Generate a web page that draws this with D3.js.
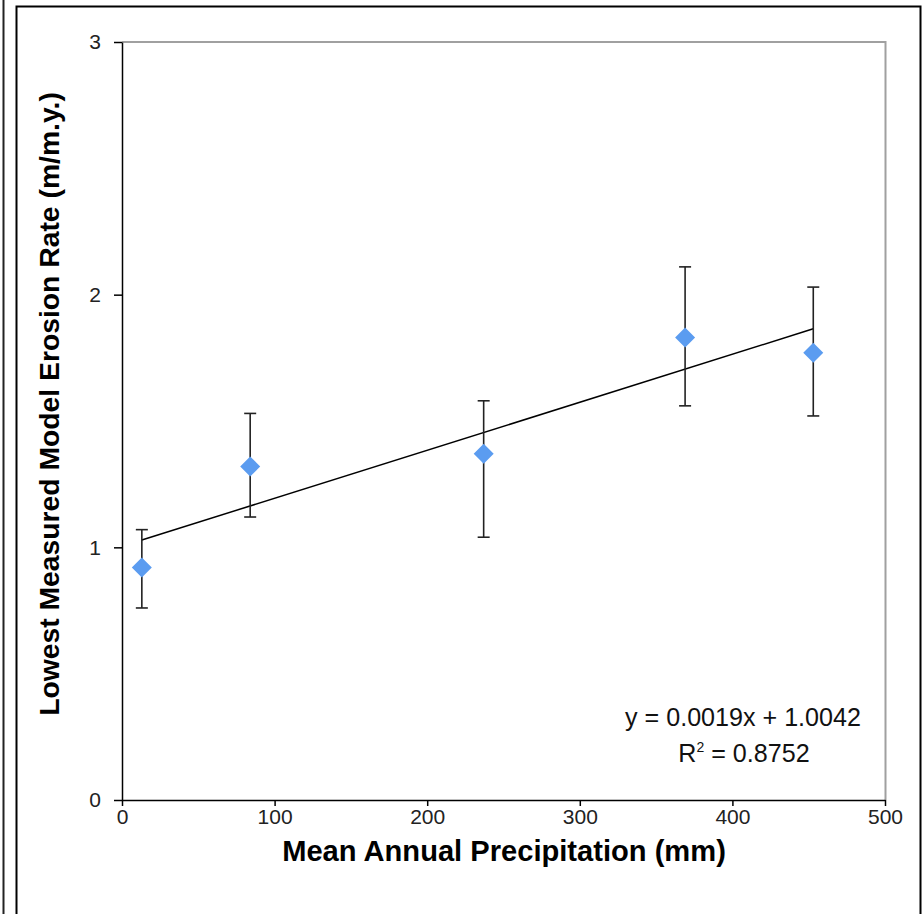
<!DOCTYPE html>
<html>
<head>
<meta charset="utf-8">
<script src="https://cdn.jsdelivr.net/npm/d3@7"></script>
<style>
  html, body { margin: 0; padding: 0; background: #fff; }
  svg { display: block; }
  text { font-family: Arial, "Liberation Sans", sans-serif; }
</style>
</head>
<body>
<svg id="chart" width="922" height="914"></svg>
<script>
// ---- data ----
const precipitation = [13, 84, 237, 369, 453];          // mm
const erosionRate   = [0.92, 1.32, 1.37, 1.83, 1.77];   // m/m.y.
const errorUpper    = [1.07, 1.53, 1.58, 2.11, 2.03];
const errorLower    = [0.76, 1.12, 1.04, 1.56, 1.52];
const xTicks = [0, 100, 200, 300, 400, 500];
const yTicks = [0, 1, 2, 3];
const trendSlope = 0.0019;
const trendIntercept = 1.0042;
const equationLabel = "y = 0.0019x + 1.0042";
const r2Label = "0.8752";
const xTitle = "Mean Annual Precipitation (mm)";
const yTitle = "Lowest Measured Model Erosion Rate (m/m.y.)";

const svg = d3.select("#chart");

// outer frame
svg.append("line").attr("x1", 3.5).attr("x2", 3.5).attr("y1", 0).attr("y2", 914)
  .attr("stroke", "#222").attr("stroke-width", 2);
svg.append("path").attr("d", "M16.5,914V6.5H920.5V914")
  .attr("fill", "none").attr("stroke", "#000").attr("stroke-width", 2);

const plot = { left: 122, right: 885, top: 42, bottom: 800 };
const x = d3.scaleLinear().domain([0, 500]).range([plot.left, plot.right]);
const y = d3.scaleLinear().domain([0, 3]).range([plot.bottom, plot.top]);

// plot area border (top & right gray)
svg.append("path")
  .attr("d", `M${plot.left},${plot.top}H${plot.right + 0.5}V${plot.bottom}`)
  .attr("fill", "none").attr("stroke", "#a0a0a0").attr("stroke-width", 2);

// axes
const yAxis = svg.append("g").attr("transform", `translate(${plot.left},0)`)
  .call(d3.axisLeft(y).tickValues(yTicks).tickFormat(d3.format("d")).tickSizeInner(8).tickSizeOuter(0).tickPadding(13));
const xAxis = svg.append("g").attr("transform", `translate(0,${plot.bottom})`)
  .call(d3.axisBottom(x).tickValues(xTicks).tickFormat(d3.format("d")).tickSizeInner(6).tickSizeOuter(0).tickPadding(3));
[yAxis, xAxis].forEach(g => {
  g.attr("font-size", 21).attr("font-family", "Arial, 'Liberation Sans', sans-serif");
  g.select(".domain").attr("stroke", "#000").attr("stroke-width", 1.5);
  g.selectAll(".tick line").attr("stroke", "#000").attr("stroke-width", 1.5);
  g.selectAll(".tick text").attr("fill", "#222");
});

// trend line
const xMin = d3.min(precipitation), xMax = d3.max(precipitation);
svg.append("line")
  .attr("x1", x(xMin)).attr("y1", y(trendSlope * xMin + trendIntercept))
  .attr("x2", x(xMax)).attr("y2", y(trendSlope * xMax + trendIntercept))
  .attr("stroke", "#000").attr("stroke-width", 1.5);

// error bars
const pts = precipitation.map((p, i) => ({ p, r: erosionRate[i], hi: errorUpper[i], lo: errorLower[i] }));
const eb = svg.append("g").attr("stroke", "#222").attr("stroke-width", 1.6);
pts.forEach(d => {
  eb.append("line").attr("x1", x(d.p)).attr("x2", x(d.p)).attr("y1", y(d.hi)).attr("y2", y(d.lo));
  eb.append("line").attr("x1", x(d.p) - 6).attr("x2", x(d.p) + 6).attr("y1", y(d.hi)).attr("y2", y(d.hi));
  eb.append("line").attr("x1", x(d.p) - 6).attr("x2", x(d.p) + 6).attr("y1", y(d.lo)).attr("y2", y(d.lo));
});

// diamonds
svg.append("g").selectAll("path").data(pts).join("path")
  .attr("d", d => { const cx = x(d.p), cy = y(d.r), s = 10; return `M${cx},${cy - s}L${cx + s},${cy}L${cx},${cy + s}L${cx - s},${cy}Z`; })
  .attr("fill", "#5b9cf0");

// fit text to width helper
function fitText(sel, target) {
  const w = sel.node().getComputedTextLength();
  const fs = parseFloat(sel.attr("font-size"));
  sel.attr("font-size", fs * target / w);
}

// axis titles
const xt = svg.append("text").attr("x", 504).attr("y", 861).attr("text-anchor", "middle")
  .attr("font-weight", "bold").attr("font-size", 28).attr("fill", "#000").text(xTitle);
fitText(xt, 444);
const yt = svg.append("text").attr("transform", "translate(59,404) rotate(-90)").attr("text-anchor", "middle")
  .attr("font-weight", "bold").attr("font-size", 28).attr("fill", "#000").text(yTitle);
fitText(yt, 624);

// equation
const eq = svg.append("text").attr("x", 743).attr("y", 726).attr("text-anchor", "middle")
  .attr("font-size", 24).attr("fill", "#111").text(equationLabel);
fitText(eq, 236);
const r2 = svg.append("text").attr("x", 744).attr("y", 762).attr("text-anchor", "middle")
  .attr("font-size", eq.attr("font-size")).attr("fill", "#111");
r2.append("tspan").text("R");
r2.append("tspan").attr("font-size", 14).attr("dy", -10).text("2");
r2.append("tspan").attr("dy", 10).text(" = " + r2Label);
</script>
</body>
</html>
